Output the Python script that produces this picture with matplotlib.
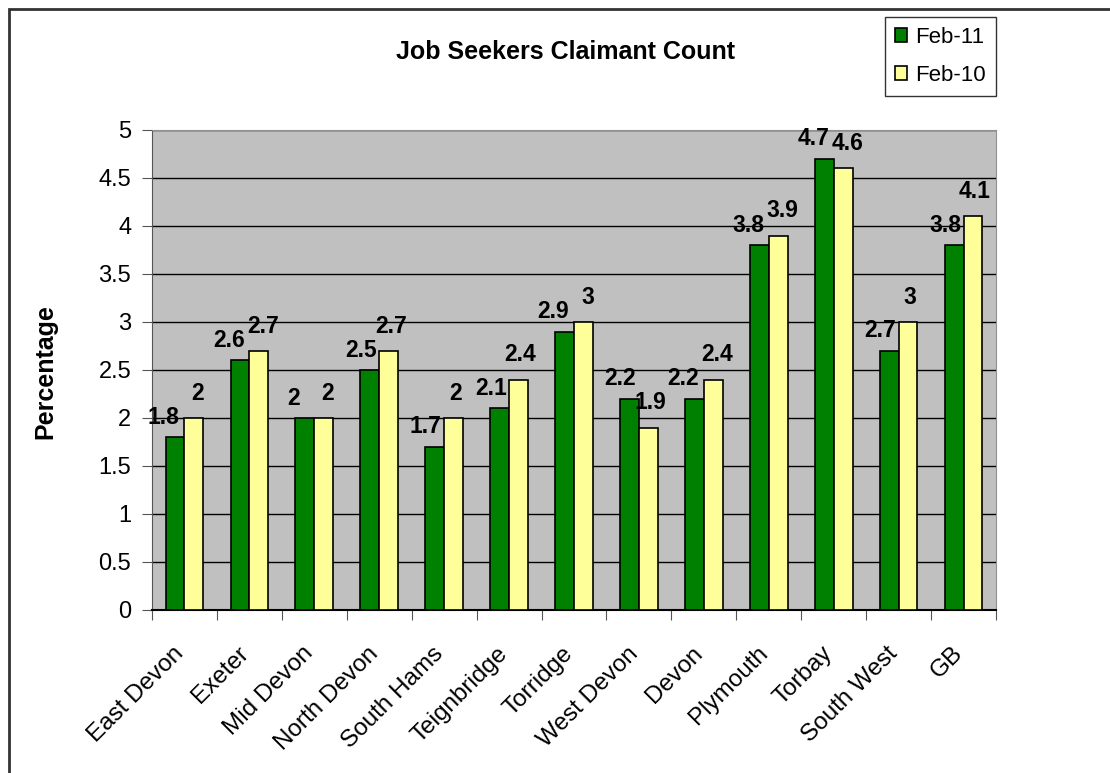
import numpy as np
from matplotlib import pyplot as plt
from matplotlib.patches import Rectangle

areas = ['East Devon', 'Exeter', 'Mid Devon', 'North Devon', 'South Hams',
         'Teignbridge', 'Torridge', 'West Devon', 'Devon', 'Plymouth',
         'Torbay', 'South West', 'GB']
feb_11 = [1.8, 2.6, 2.0, 2.5, 1.7, 2.1, 2.9, 2.2, 2.2, 3.8, 4.7, 2.7, 3.8]
feb_10 = [2.0, 2.7, 2.0, 2.7, 2.0, 2.4, 3.0, 1.9, 2.4, 3.9, 4.6, 3.0, 4.1]
y_ticks = [0, 0.5, 1, 1.5, 2, 2.5, 3, 3.5, 4, 4.5, 5]


def fmt(v):
    return f'{v:g}'


def plot_chart():
    plt.rcParams['font.family'] = ['Liberation Sans', 'DejaVu Sans']
    W, H = 1110, 773
    fig = plt.figure(figsize=(W / 100, H / 100), dpi=100)

    # outer chart border (cut off at right / bottom like the original)
    fig.patches.append(Rectangle((9 / W, -0.05), 1.1, (H - 9) / H + 0.05,
                                 transform=fig.transFigure, fill=False,
                                 edgecolor='#333333', linewidth=2))

    ax = fig.add_axes([152 / W, (H - 610) / H, (996 - 152) / W, (610 - 130) / H])
    ax.set_facecolor('#C0C0C0')

    x = np.arange(len(areas))
    w = 0.29
    b1 = ax.bar(x - w / 2, feb_11, w, color='#008000', edgecolor='black',
                linewidth=1.2, label='Feb-11', zorder=3)
    b2 = ax.bar(x + w / 2, feb_10, w, color='#FFFF99', edgecolor='black',
                linewidth=1.2, label='Feb-10', zorder=3)

    # value labels, nudged apart where the two bars are nearly level
    for r1, r2, v1, v2 in zip(b1, b2, feb_11, feb_10):
        spread = 1.5 if abs(v1 - v2) < 0.2 else 0
        ax.annotate(fmt(v1), (r1.get_x() + r1.get_width() / 2, v1),
                    xytext=(-6.5 - spread, 6), textcoords='offset points',
                    ha='center', va='bottom', fontsize=16.5, fontweight='bold')
        ax.annotate(fmt(v2), (r2.get_x() + r2.get_width() / 2, v2),
                    xytext=(1.5 + spread, 9.5), textcoords='offset points',
                    ha='center', va='bottom', fontsize=16.5, fontweight='bold')

    ax.set_ylim(0, 5)
    ax.set_xlim(-0.5, len(areas) - 0.5)
    ax.set_yticks(y_ticks)
    ax.set_yticklabels([fmt(t) for t in y_ticks], fontsize=17)
    ax.yaxis.grid(True, color='black', linewidth=1, zorder=0)
    ax.set_axisbelow(True)

    ax.set_xticks(np.arange(len(areas) + 1) - 0.5)
    ax.set_xticklabels([])
    ax.set_xticks(x, minor=True)
    ax.set_xticklabels(areas, minor=True, rotation=45, ha='right',
                       va='baseline', rotation_mode='anchor', fontsize=17.5)
    ax.tick_params(axis='x', which='minor', length=0, pad=32)
    ax.tick_params(axis='x', which='major', length=7, color='#555555')
    ax.tick_params(axis='y', length=7, color='#555555', pad=8)

    for s in ['top', 'right']:
        ax.spines[s].set_color('#909090')
    ax.spines['left'].set_color('#555555')
    ax.spines['bottom'].set_color('black')
    ax.spines['bottom'].set_linewidth(1.5)

    fig.text(565 / W, 1 - 52 / H, 'Job Seekers Claimant Count', ha='center',
             va='center', fontsize=18, fontweight='bold')
    fig.text(45 / W, 1 - 372 / H, 'Percentage', ha='center', va='center',
             rotation=90, fontsize=18, fontweight='bold')

    leg = fig.legend(loc='upper left', bbox_to_anchor=(885 / W, 1 - 17 / H),
                     fontsize=16, frameon=True, fancybox=False,
                     edgecolor='black', handlelength=0.55, handleheight=0.55,
                     handletextpad=0.35, borderpad=0.45, labelspacing=0.75,
                     borderaxespad=0)
    leg.get_frame().set_linewidth(1)

    fig.savefig('out.png', dpi=100)


if __name__ == '__main__':
    plot_chart()
